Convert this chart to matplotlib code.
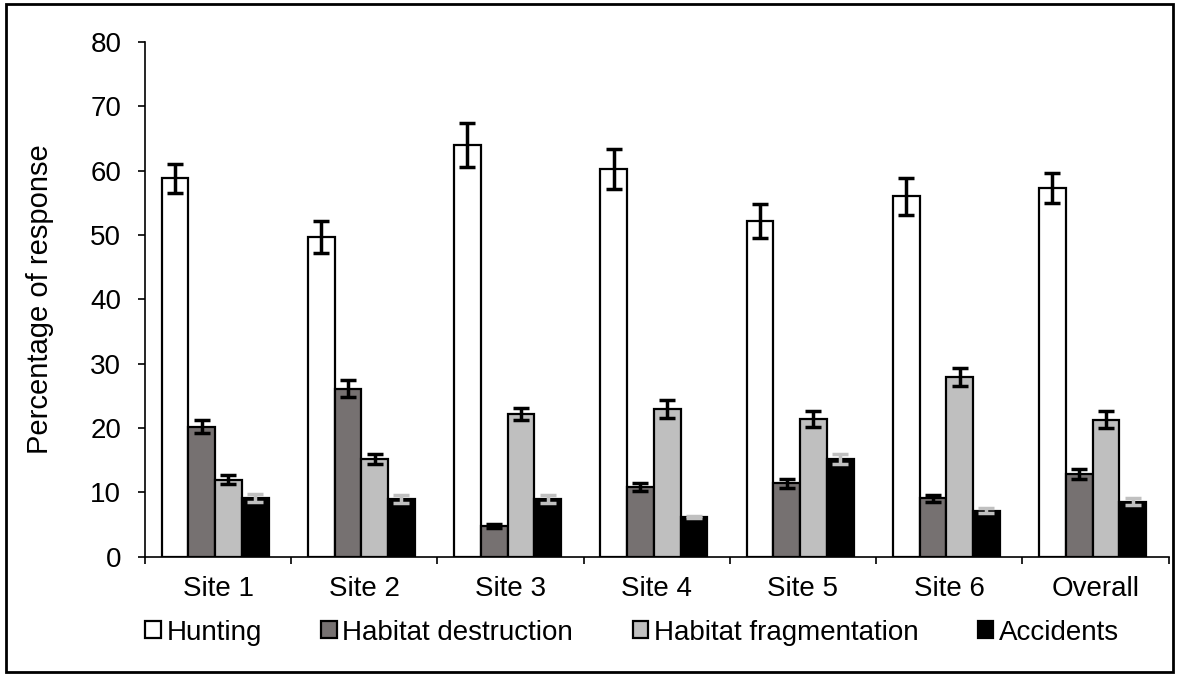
import numpy as np
import matplotlib.pyplot as plt
from matplotlib.patches import Rectangle

plt.rcParams['font.family'] = ['Liberation Sans', 'DejaVu Sans']

sites = ['Site 1', 'Site 2', 'Site 3', 'Site 4', 'Site 5', 'Site 6', 'Overall']
series = ['Hunting', 'Habitat destruction', 'Habitat fragmentation', 'Accidents']

hunting = [58.8, 49.7, 64.0, 60.3, 52.2, 56.0, 57.3]
destruction = [20.2, 26.1, 4.8, 10.8, 11.4, 9.1, 12.9]
fragmentation = [12.0, 15.2, 22.2, 22.9, 21.4, 27.9, 21.3]
accidents = [9.1, 9.0, 9.0, 6.2, 15.2, 7.2, 8.6]

hunting_err = [2.3, 2.5, 3.4, 3.1, 2.6, 2.9, 2.4]
destruction_err = [1.0, 1.3, 0.3, 0.6, 0.7, 0.5, 0.8]
fragmentation_err = [0.7, 0.8, 1.0, 1.4, 1.3, 1.4, 1.3]
accidents_err = [0.6, 0.6, 0.6, 0.2, 0.8, 0.4, 0.6]

valores = [hunting, destruction, fragmentation, accidents]
erros = [hunting_err, destruction_err, fragmentation_err, accidents_err]
cores = ['white', '#767171', '#bfbfbf', 'black']
cor_erro = ['black', 'black', 'black', '#c0c0c0']

fig = plt.figure(figsize=(11.78, 6.75), dpi=100)
ax = fig.add_axes([0.123, 0.175, 0.869, 0.763])

x = np.arange(len(sites))
larg = 0.183
for i in range(4):
    pos = x + (i - 1.5) * larg - 0.02
    ax.bar(pos, valores[i], larg, color=cores[i], edgecolor='black',
           linewidth=1.6, label=series[i], zorder=2)
    ax.errorbar(pos, valores[i], yerr=erros[i], fmt='none', ecolor=cor_erro[i],
                elinewidth=2.5, capsize=5.5, capthick=2.5, zorder=3)

ax.set_xlim(-0.5, len(sites) - 0.5)
ax.set_ylim(0, 80)
ax.set_yticks(np.arange(0, 81, 10))
ax.set_xticks(x)
ax.set_xticklabels(sites, fontsize=20)
ax.set_xticks(np.arange(-0.5, len(sites)), minor=True)
ax.tick_params(axis='x', which='major', length=0, pad=14)
ax.tick_params(axis='x', which='minor', length=5, width=1.2, direction='out')
ax.tick_params(axis='y', labelsize=20, length=5, width=1.2, direction='out', pad=12)
ax.spines['top'].set_visible(False)
ax.spines['right'].set_visible(False)
ax.spines['left'].set_linewidth(1.2)
ax.spines['bottom'].set_linewidth(1.2)
ax.set_ylabel('Percentage of response', fontsize=21, labelpad=26)

ax.legend(loc='upper center', bbox_to_anchor=(0.476, -0.095), ncol=4, frameon=False,
          fontsize=20, handlelength=0.55, handleheight=0.55, handletextpad=0.2,
          columnspacing=2.15, borderpad=0)

# moldura em volta da figura
fig.patches.append(Rectangle((0.005, 0.004), 0.991, 0.99, transform=fig.transFigure,
                             fill=False, edgecolor='black', linewidth=2))

plt.savefig('out.png', dpi=100)
